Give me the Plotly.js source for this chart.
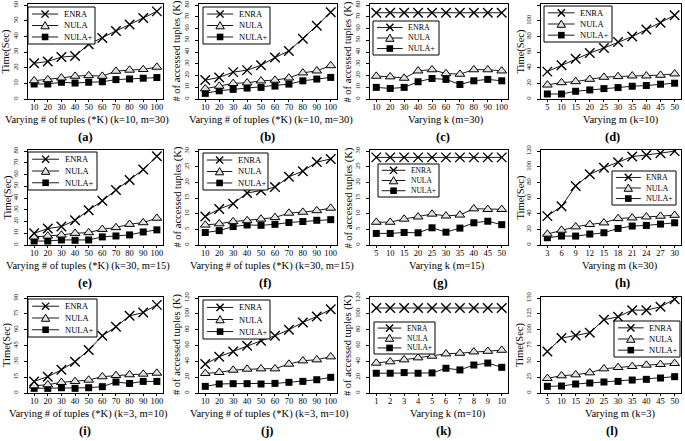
<!DOCTYPE html>
<html><head><meta charset="utf-8">
<script src="https://cdn.plot.ly/plotly-3.0.1.min.js"></script>
<style>html,body{margin:0;padding:0;background:#fff}</style>
</head><body><div id="chart" style="width:685px;height:441px"></div>
<script>
// ---------- data ----------
const xTuples = [10,20,30,40,50,60,70,80,90,100];
const xStep5 = [5,10,15,20,25,30,35,40,45,50];
const xStep3 = [3,6,9,12,15,18,21,24,27,30];
const xStep1 = [1,2,3,4,5,6,7,8,9,10];
const seriesNames = ['ENRA','NULA','NULA+'];
const panelLetters = ['(a)','(b)','(c)','(d)','(e)','(f)','(g)','(h)','(i)','(j)','(k)','(l)'];
const xTitles = ['Varying # of tuples (*K) (k=10, m=30)','Varying # of tuples (*K) (k=10, m=30)','Varying k (m=30)','Varying m (k=10)',
  'Varying # of tuples (*K) (k=30, m=15)','Varying # of tuples (*K) (k=30, m=15)','Varying k (m=15)','Varying m (k=30)',
  'Varying # of tuples (*K) (k=3, m=10)','Varying # of tuples (*K) (k=3, m=10)','Varying k (m=10)','Varying m (k=3)'];
const yTitleTime = 'Time(Sec)';
const yTitleTuples = '# of accessed tuples (K)';

const a_ENRA = [22.8,24,26.8,27.5,35,39,43.5,47.6,51.7,56];
const a_NULA = [11.7,12.4,13.5,14.6,15,14.6,17.8,18.5,18.9,20.4];
const a_NULAp = [9.6,9.6,10.7,10.2,10.7,11,12.4,12.8,13.3,13.7];
const b_ENRA = [16.1,18.4,22.9,24.6,28.8,35.3,41,51.4,62.4,74];
const b_NULA = [8.8,11,13.3,13.8,15.5,16.1,18,22.3,24,28.5];
const b_NULAp = [4.8,7,8.2,9.3,9.9,11,12.7,15.5,17,18.4];
const c_ENRA = [73.5,73.5,73.5,73.5,73.5,73.5,73.5,73.5,73.5,73.5];
const c_NULA = [19.5,19,17.8,24,25,21.7,21.2,25,25,24];
const c_NULAp = [9.9,9,9.9,14.7,17.5,16.7,12.4,15.5,16.7,15.5];
const d_ENRA = [35,43,51.5,58.8,65.2,73,79.8,88.8,97.4,107];
const d_NULA = [18,21,22.3,25.3,27.9,28.8,29.6,29.6,30.5,32.2];
const d_NULAp = [6.4,6.4,9.9,11.6,13.3,14.6,16.3,17.2,18.9,20.2];
const e_ENRA = [10,14,15.7,21,29.7,37.7,46.9,55.4,64.3,75.7];
const e_NULA = [6.9,7.7,8.6,10,10.6,13.4,14.9,17.7,19.1,22.9];
const e_NULAp = [3.4,3.4,4.3,4,4.3,6.9,7.7,8.6,11.1,12.9];
const f_ENRA = [9.1,11.5,13.2,16.6,17.4,18.5,21.8,23.6,26.5,27.5];
const f_NULA = [6.4,6.8,7.5,7.8,8.3,8.8,10.2,10.5,11,11.8];
const f_NULAp = [4,4.6,5.9,6.4,6.3,6.6,7.2,7.5,7.9,8.1];
const g_ENRA = [28,28,28,28,28,28,28,28,28,28];
const g_NULA = [7.3,7.3,8.3,9,9.9,9.3,9.6,11.6,11.4,11.4];
const g_NULAp = [3.7,3.7,4,3.9,5.5,4.1,5.4,7.1,7.6,6.5];
const h_ENRA = [36.9,49.6,75.4,90.3,98.7,105.9,113,115,117.4,120];
const h_NULA = [14,19,23.3,26.3,28.4,33.9,34.7,36,36.9,38.1];
const h_NULAp = [9.3,11.4,11.4,14,15.7,21.2,24.2,25,26.7,28.4];
const i_ENRA = [11,15.5,22,29.7,40.7,54.3,62.8,73.2,76.3,83.6];
const i_NULA = [6.9,7.9,10.1,11,12.3,15.5,16.7,17.4,18,18.9];
const i_NULAp = [4.4,4.4,5,4.4,5,6,10.4,9.1,11,11];
const j_ENRA = [36.6,45.9,52.6,59.8,66.1,72.4,80,89.3,96.8,106];
const j_NULA = [24.8,26.1,29,30.3,30.7,30.7,36.6,40.8,42.1,45.9];
const j_NULAp = [8.4,11.4,11.8,11.8,11.4,12.2,13.5,14.7,16.8,19.8];
const k_ENRA = [107.5,107.5,107.5,107.5,107.5,107.5,107.5,107.5,107.5,107.5];
const k_NULA = [37.9,39.6,42.1,44.6,46.7,49.6,50.4,52.1,52.9,54.2];
const k_NULAp = [25,25,25.8,25,25.4,31.3,29.2,35.4,37.9,32.5];
const l_ENRA = [65.8,86.8,91,95.3,115.8,120.5,131,131,136.3,148.4];
const l_NULA = [23.2,27.4,28.9,32.1,38.4,40.5,42.1,44.2,45.3,46.8];
const l_NULAp = [10.5,11,14.2,15.8,17.4,18.4,20.5,21.6,23.7,25.8];

const yMax = [60,80,80,120,80,30,30,120,90,120,120,150];
const yStep = [10,10,10,20,10,5,5,20,15,20,20,25];

const panels = [
  {x:xTuples, s:[a_ENRA,a_NULA,a_NULAp], yt:yTitleTime},
  {x:xTuples, s:[b_ENRA,b_NULA,b_NULAp], yt:yTitleTuples},
  {x:xTuples, s:[c_ENRA,c_NULA,c_NULAp], yt:yTitleTuples},
  {x:xStep5, s:[d_ENRA,d_NULA,d_NULAp], yt:yTitleTime},
  {x:xTuples, s:[e_ENRA,e_NULA,e_NULAp], yt:yTitleTime},
  {x:xTuples, s:[f_ENRA,f_NULA,f_NULAp], yt:yTitleTuples},
  {x:xStep5, s:[g_ENRA,g_NULA,g_NULAp], yt:yTitleTuples},
  {x:xStep3, s:[h_ENRA,h_NULA,h_NULAp], yt:yTitleTime},
  {x:xTuples, s:[i_ENRA,i_NULA,i_NULAp], yt:yTitleTime},
  {x:xTuples, s:[j_ENRA,j_NULA,j_NULAp], yt:yTitleTuples},
  {x:xStep1, s:[k_ENRA,k_NULA,k_NULAp], yt:yTitleTuples},
  {x:xStep5, s:[l_ENRA,l_NULA,l_NULAp], yt:yTitleTime}
];

// ---------- layout geometry (pixels) ----------
const W = 685, H = 441;
const FONT = 'Liberation Serif, Times New Roman, serif';
const colL = [28,199,370,541], colR = [163,337,508,681];
const rowT = [4,150,297], rowB = [99,245,393];
const xTitleY = [120,266,414], letterY = [137,283,431];
const xTitleCX = [87,271,446,621, 88,272,447,620, 88,269,448,620];
const letterCX = [85,267,443,612, 85,265,440,622, 85,267,443,612];
const yTitleX = [6,177,348,521, 7,177,348,520, 7,177,348,520];
const legBoxes = [[28,7,95,44],[203,7,270,44],[373,21,439,55],[544,6,612,42],
  [28,152,97,190],[203,153,268,190],[378,164,439,197],[612,171,676,205],
  [28,299,97,337],[203,300,270,339],[374,322,435,354],[614,321,680,357]];
const legFont = [8.5,8.5,8,8.5, 8.5,8.5,7.5,8, 8.5,8.5,7.5,8.5];

const px = v => v / W;
const py = v => 1 - v / H;

const markerStyles = [
  {symbol:'x-thin-open', size:9.5, color:'#000', line:{color:'#000', width:1.4}},
  {symbol:'triangle-up', size:8.5, color:'#e2e2e2', line:{color:'#000', width:1}},
  {symbol:'square', size:7, color:'#000', line:{color:'#000', width:0}}
];

const data = [];
const layout = {
  width: W, height: H, autosize: false,
  margin: {l:0, r:0, t:0, b:0},
  paper_bgcolor: '#fff', plot_bgcolor: '#fff',
  showlegend: false,
  font: {family: FONT, color: '#000'},
  shapes: [], annotations: []
};

panels.forEach((p, i) => {
  const r = Math.floor(i / 4), c = i % 4;
  const suf = i === 0 ? '' : String(i + 1);
  const step = p.x[1] - p.x[0];
  layout['xaxis' + suf] = {
    domain: [px(colL[c]), px(colR[c])], anchor: 'y' + suf,
    range: [p.x[0] - 0.45 * step, p.x[p.x.length - 1] + 0.45 * step],
    tickvals: p.x, tickangle: 0, ticks: 'outside', ticklen: 2, tickcolor: '#000',
    ticklabelstandoff: -2,
    showline: true, mirror: true, linecolor: '#000', linewidth: 1,
    showgrid: false, zeroline: false,
    tickfont: {family: FONT, size: 8.5, color: '#000'}
  };
  layout['yaxis' + suf] = {
    domain: [py(rowB[r]), py(rowT[r])], anchor: 'x' + suf,
    range: [0, yMax[i] * 1.012], tick0: 0, dtick: yStep[i],
    ticks: 'outside', ticklen: 3, tickcolor: '#000', tickangle: -90,
    ticklabelstandoff: 3,
    showline: true, mirror: true, linecolor: '#000', linewidth: 1,
    showgrid: false, zeroline: false,
    tickfont: {family: FONT, size: 6.5, color: '#000'}
  };
  [2, 1, 0].forEach(k => {
    data.push({
      x: p.x, y: p.s[k], xaxis: 'x' + suf, yaxis: 'y' + suf,
      type: 'scatter', mode: 'lines+markers', name: seriesNames[k],
      line: {color: '#1a1a1a', width: 1},
      marker: markerStyles[k], showlegend: false, hoverinfo: 'skip'
    });
  });
  // titles
  layout.annotations.push({xref:'paper', yref:'paper', x: px(xTitleCX[i]), y: py(xTitleY[r]),
    text: xTitles[i], showarrow:false, xanchor:'center', yanchor:'middle', borderpad: 0,
    font:{family:FONT, size:10.5, color:'#000'}});
  layout.annotations.push({xref:'paper', yref:'paper', x: px(letterCX[i]), y: py(letterY[r]),
    text: '<b>' + panelLetters[i] + '</b>', showarrow:false, xanchor:'center', yanchor:'middle', borderpad: 0,
    font:{family:FONT, size:12.5, color:'#000'}});
  layout.annotations.push({xref:'paper', yref:'paper', x: px(yTitleX[i]), y: py((rowT[r] + rowB[r]) / 2),
    text: p.yt, textangle: -90, showarrow:false, xanchor:'center', yanchor:'middle', borderpad: 0,
    font:{family:FONT, size:10.5, color:'#000'}});
  // legend box (decoration)
  const [bx0, by0, bx1, by1] = legBoxes[i];
  const bw = bx1 - bx0, bh = by1 - by0;
  layout.shapes.push({type:'rect', xref:'paper', yref:'paper', x0:px(bx0), x1:px(bx1), y0:py(by0), y1:py(by1),
    line:{color:'#000', width:1}, fillcolor:'#fff', layer:'above'});
  [0.19, 0.5, 0.81].forEach((f, k) => {
    const cy = by0 + f * bh;
    const lx0 = bx0 + 0.06 * bw, lx1 = bx0 + 0.45 * bw, cx = bx0 + 0.255 * bw;
    layout.shapes.push({type:'line', xref:'paper', yref:'paper', x0:px(lx0), x1:px(lx1), y0:py(cy), y1:py(cy),
      line:{color:'#1a1a1a', width:1}, layer:'above'});
    if (k === 0) {
      const d = 3.6;
      layout.shapes.push({type:'line', xref:'paper', yref:'paper', x0:px(cx-d), x1:px(cx+d), y0:py(cy-d), y1:py(cy+d), line:{color:'#000', width:1.4}, layer:'above'});
      layout.shapes.push({type:'line', xref:'paper', yref:'paper', x0:px(cx-d), x1:px(cx+d), y0:py(cy+d), y1:py(cy-d), line:{color:'#000', width:1.4}, layer:'above'});
    } else if (k === 1) {
      const path = 'M ' + px(cx-4.2) + ',' + py(cy+3.3) + ' L ' + px(cx+4.2) + ',' + py(cy+3.3) + ' L ' + px(cx) + ',' + py(cy-3.9) + ' Z';
      layout.shapes.push({type:'path', xref:'paper', yref:'paper', path: path, fillcolor:'#e2e2e2', line:{color:'#000', width:1}, layer:'above'});
    } else {
      layout.shapes.push({type:'rect', xref:'paper', yref:'paper', x0:px(cx-3.3), x1:px(cx+3.3), y0:py(cy-3.3), y1:py(cy+3.3), fillcolor:'#000', line:{color:'#000', width:0}, layer:'above'});
    }
    layout.annotations.push({xref:'paper', yref:'paper', x: px(bx0 + 0.52 * bw), y: py(cy),
      text: seriesNames[k], showarrow:false, xanchor:'left', yanchor:'middle', borderpad: 0,
      font:{family:FONT, size:legFont[i], color:'#000'}});
  });
});

Plotly.newPlot('chart', data, layout, {staticPlot: true, displayModeBar: false});
</script>
</body></html>
